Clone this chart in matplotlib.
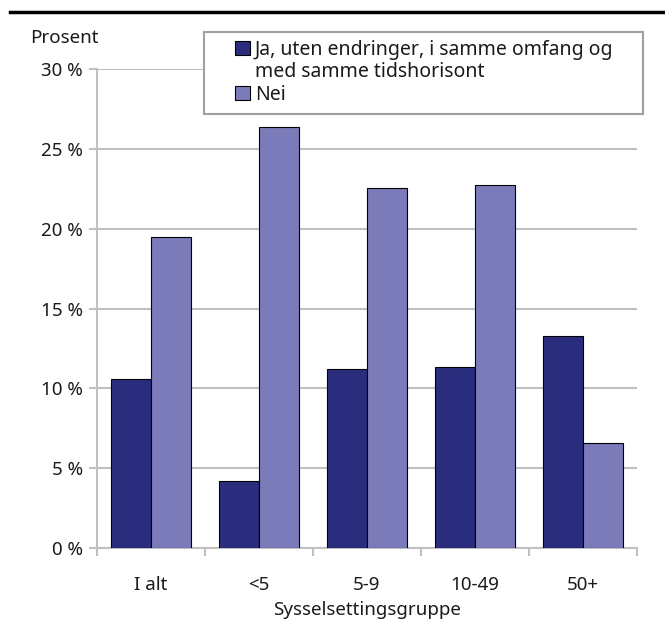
import numpy as np
import matplotlib
matplotlib.use('Agg')
from matplotlib import pyplot as plt
from matplotlib.lines import Line2D
from matplotlib.patches import Rectangle

# data
groups = ['I alt', '<5', '5-9', '10-49', '50+']
ja_uten = [10.6, 4.2, 11.2, 11.35, 13.3]
nei = [19.45, 26.35, 22.55, 22.75, 6.6]
series_names = ['Ja, uten endringer, i samme omfang og\nmed samme tidshorisont', 'Nei']
yticks = [0, 5, 10, 15, 20, 25, 30]

plt.rcParams['font.family'] = ['Noto Sans', 'DejaVu Sans']
plt.rcParams['font.size'] = 13.5

W, H = 665, 630
fig = plt.figure(figsize=(W/100, H/100), dpi=100)
ax = fig.add_axes([97/W, 1-548/H, 540/W, 479/H])

grey = '#c0c0c0'
dark = '#2a2d7d'
light = '#7c7bba'
txt = '#1a1a1a'
colors = [dark, light]

x = np.arange(len(groups))
bw = 0.37
ax.bar(x - bw/2, ja_uten, bw, color=dark, edgecolor='black', linewidth=0.8, zorder=3)
ax.bar(x + bw/2, nei, bw, color=light, edgecolor='black', linewidth=0.8, zorder=3)

ax.set_xlim(-0.5, len(groups) - 0.5)
ax.set_ylim(0, 30)
ax.set_yticks(yticks)
ax.set_yticklabels([f'{v} %' for v in yticks])
ax.yaxis.grid(True, color=grey, linewidth=1.5, zorder=0)
ax.set_axisbelow(True)

# ticks at category boundaries, labels at centres
ax.set_xticks(np.arange(-0.5, len(groups), 1.0))
ax.set_xticklabels([])
ax.set_xticks(x, minor=True)
ax.set_xticklabels(groups, minor=True)
ax.tick_params(axis='x', which='minor', length=0, pad=20, labelcolor=txt)
ax.tick_params(axis='x', which='major', length=6, width=1.5, color=grey)
ax.tick_params(axis='y', length=6, width=1.5, color=grey, pad=4, labelcolor=txt)

for s in ['top', 'right']:
    ax.spines[s].set_visible(False)
for s in ['left', 'bottom']:
    ax.spines[s].set_color(grey)
    ax.spines[s].set_linewidth(1.5)

ax.set_xlabel('Sysselsettingsgruppe', color=txt, labelpad=5)
fig.text(30/W, 1-38/H, 'Prosent', va='center', ha='left', color=txt)

# legend box, drawn by hand (pixel positions)
def fx(px):
    return px / W

def fy(py):
    return 1 - py / H

fig.patches.append(Rectangle((fx(204), fy(114)), fx(643) - fx(204), fy(32) - fy(114),
                             transform=fig.transFigure, facecolor='white',
                             edgecolor='#a0a0a0', linewidth=1.5, zorder=5))
lines = [series_names[0].split('\n'), [series_names[1]]]
baselines = [[55, 77], [100]]
for name_lines, bl, c in zip(lines, baselines, colors):
    fig.patches.append(Rectangle((fx(235), fy(bl[0])), fx(15), 14/H,
                                 transform=fig.transFigure, facecolor=c,
                                 edgecolor='black', linewidth=0.8, zorder=6))
    for t, b in zip(name_lines, bl):
        fig.text(fx(255), fy(b), t, va='baseline', ha='left', color=txt,
                 fontsize=14, zorder=7)

# black rule at the top
fig.add_artist(Line2D([10/W, 1], [1-12/H, 1-12/H], color='black', linewidth=2.5))

fig.savefig('out.png', dpi=100)
